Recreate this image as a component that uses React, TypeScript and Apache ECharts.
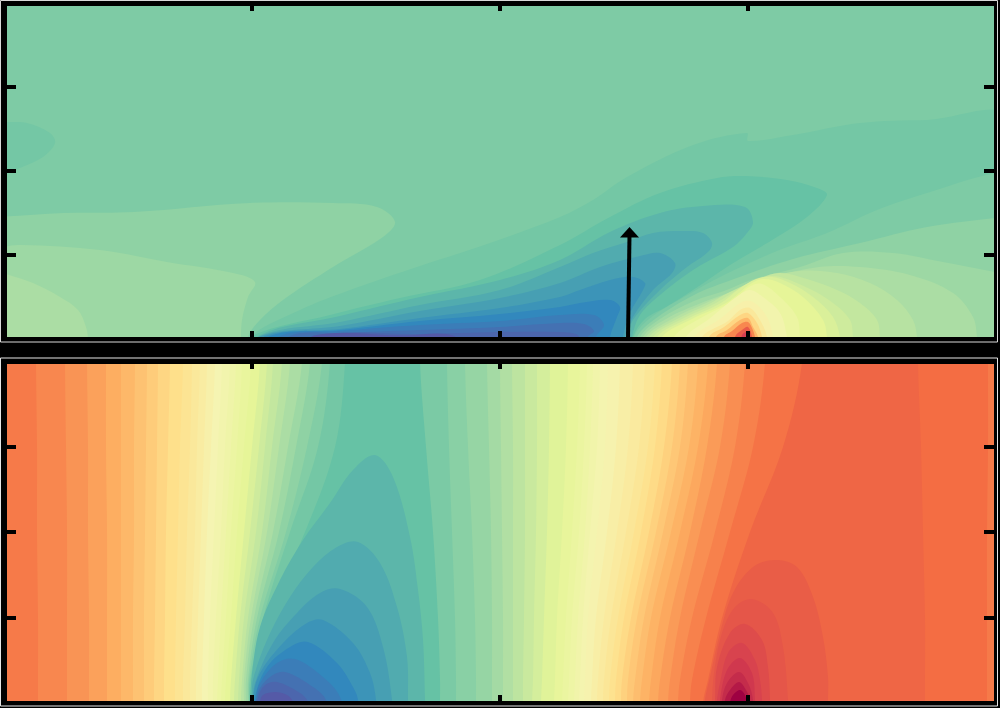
import React, { useEffect, useRef } from "react";
import * as echarts from "echarts";

// Colormap stops (value 0..1 across the eleven stops)
const colormapStops = ["#5e4fa2", "#3288bd", "#66c2a5", "#abdda4", "#e6f598", "#f5f4b2", "#fee08b", "#fdae61", "#f46d43", "#d53e4f", "#9e0142"];

// Upper panel: field level of each filled contour, then its outline [x, height]
const upperBase = 0.235;
const upperLevels = [
  0.26, 0.28, 0.3, 0.22,
  0.22, 0.2, 0.18, 0.16, 0.14, 0.12, 0.1, 0.08, 0.06, 0.04, 0.02,
  0.235, 0.26, 0.28, 0.3, 0.32, 0.34, 0.36, 0.38, 0.4, 0.44, 0.48, 0.52, 0.56, 0.62, 0.68, 0.76, 0.84, 0.9,
];
const upperContours = [
  [[-30,122],[-8,122],[60,126],[130,127],[246,136],[329,136],[373,132],[391,117],[379,102],[329,72],[279,39],[256,19],[244,2],[243,-20],[-30,-20]],
  [[-30,90],[-8,91],[16,94],[96,89],[163,77],[229,66],[251,57],[244,42],[238,19],[237,0],[237,-20],[-30,-20]],
  [[-30,72],[-8,68],[2,65],[29,56],[56,42],[74,29],[82,12],[84,0],[84,-20],[-30,-20]],
  [[-30,220],[-8,218],[2,217],[23,216],[46,206],[51,196],[39,182],[16,171],[2,165],[-8,161],[-30,155]],

  [[246,2],[296,29],[346,49],[416,73],[486,96],[556,122],[589,139],[623,162],[689,194],[743,206],[744,198],[789,204],[856,216],[923,219],[1006,220],[1020,-20],[240,-20]],
  [[246,2],[326,24],[396,41],[476,59],[556,94],[606,122],[656,146],[713,161],[741,163],[783,159],[813,151],[823,144],[803,122],[773,102],[723,72],[689,49],[662,32],[641,20],[629,2],[626,-20],[240,-20]],
  [[256,4],[336,23],[416,42],[496,59],[556,79],[606,107],[656,126],[699,133],[741,132],[749,117],[743,106],[729,92],[689,69],[656,44],[636,24],[628,2],[626,-20],[250,-20]],
  [[256,3],[336,17],[416,34],[496,49],[556,72],[589,86],[623,97],[649,106],[679,108],[699,106],[708,96],[704,87],[683,72],[656,49],[629,19],[624,2],[622,-20],[252,-20]],
  [[256,2.5],[336,13],[416,28],[496,41],[556,56],[596,72],[636,83],[656,86],[671,76],[668,66],[649,49],[629,22],[621,2],[620,-20],[254,-20]],
  [[261,3],[336,10],[416,21],[496,31],[556,42],[576,49],[606,59],[629,62],[641,56],[639,49],[626,26],[619,2],[618,-20],[258,-20]],
  [[266,3],[336,9],[416,18],[496,25],[556,32],[576,36],[606,39],[616,32],[613,22],[606,2],[605,-20],[262,-20]],
  [[276,3],[336,8],[416,14],[496,18],[556,24],[590,24],[600,14],[592,2],[590,-20],[270,-20]],
  [[286,3],[336,6],[416,9],[496,12],[556,16],[580,15],[590,8],[584,2],[582,-20],[280,-20]],
  [[316,3],[416,5],[496,7],[556,7],[572,5],[575,2],[572,-20],[310,-20]],
  [[300,-20],[310,3.5],[400,3.5],[450,3],[460,-20]],

  [[1030,160],[1008,164],[991,166],[923,146],[873,129],[823,106],[773,88],[720,64],[680,42],[645,20],[630,2],[628,-20],[1030,-20]],
  [[1030,125],[1008,123],[991,121],[923,112],[856,96],[789,80],[730,60],[690,44],[651,20],[633,2],[631,-20],[1030,-20]],
  [[1030,62],[1008,64],[991,67],[939,77],[889,86],[839,86],[796,72],[750,60],[720,48],[690,38],[656,20],[636,2],[634,-20],[1030,-20]],
  [[975,-20],[973,2],[969,22],[949,46],[906,64],[856,72],[815,72],[770,62],[730,48],[697,36],[662,20],[639,2],[637,-20]],
  [[915,-20],[913,2],[909,19],[893,39],[866,56],[833,66],[795,68],[760,60],[725,46],[702,36],[668,20],[642,2],[640,-20]],
  [[878,-20],[876,2],[873,19],[856,36],[833,49],[803,60],[775,66],[750,58],[720,44],[707,36],[673,20],[645,2],[643,-20]],
  [[851,-20],[849,2],[846,19],[829,36],[806,50],[776,62],[760,62],[738,52],[712,36],[678,20],[649,2],[647,-20]],
  [[838,-20],[836,2],[829,22],[809,42],[786,56],[768,62],[752,60],[735,50],[717,36],[683,20],[653,2],[651,-20]],
  [[825,-20],[823,2],[819,19],[799,42],[776,56],[760,60],[748,56],[722,36],[688,20],[658,2],[656,-20]],
  [[798,-20],[796,2],[793,22],[776,42],[758,55],[745,52],[729,38],[695,20],[670,2],[668,-20]],
  [[785,-20],[783,2],[776,26],[759,42],[746,49],[735,44],[705,20],[682,2],[680,-20]],
  [[771,-20],[769,2],[763,22],[749,37],[738,37],[716,20],[690,2],[688,-20]],
  [[765,-20],[763,2],[756,19],[746,31],[736,29],[724,18],[698,2],[696,-20]],
  [[760,-20],[758,2],[753,16],[744,26],[736,24],[720,12],[705,2],[703,-20]],
  [[756,-20],[754,2],[749,12],[744,21],[736,19],[723,9],[712,2],[710,-20]],
  [[753,-20],[751,2],[748,11],[744,17],[738,16],[728,8],[720,2],[718,-20]],
  [[750,-20],[748,2],[744,12],[738,9],[731,2],[729,-20]],
  [[746,-20],[744,2],[743,7],[738,4],[735,-20]],
];

// Vertical arrow in the upper panel: foot and tip [x, height]
const arrowFoot = [624, 0];
const arrowTip = [625.5, 112];

// Lower panel: heights at which each band edge was read
const lowerBase = 0.78;
const bandHeights = [340, 256, 171, 85, 23, 0];
const bandLevels = [
  0.76, 0.74, 0.72, 0.7, 0.68, 0.66, 0.64, 0.62, 0.6, 0.58, 0.56, 0.54, 0.52, 0.5, 0.48, 0.46, 0.44, 0.42, 0.4,
  0.38, 0.36, 0.34, 0.32, 0.3, 0.28, 0.26, 0.24, 0.22, 0.2,
  0.23, 0.25, 0.27, 0.29, 0.31, 0.33, 0.35, 0.37, 0.39, 0.41, 0.43, 0.45, 0.47, 0.49, 0.51, 0.53, 0.55, 0.57,
  0.59, 0.61, 0.63, 0.65, 0.67, 0.69, 0.71, 0.73, 0.75, 0.77, 0.79, 0.815, 0.8, 0.78,
];
const bandEdges = [
  [32,33,33,34,34,34],[61,62,63,63,63,63],[83,84,84,85,85,85],[102,102,103,103,103,103],[117,117,117,117,117,117],
  [131,130,130,129,129,129],[143,142,141,140,140,140],[154,153,152,151,150,150],[166,164,162,161,160,160],
  [179,176,174,172,171,171],[188,186,183,181,179,179],[196,193,191,188,186,186],[203,200,197,194,192,192],
  [211,207,203,200,198,198],[218,214,210,206,204,204],[226,221,217,212,209,209],[232,227,222,217,214,213],
  [238,233,227,222,218,217],[247,240,233,227,222,221],[256,248,240,232,227,226],[263,255,246,236,231,230],
  [269,261,252,240,235,234],[278,268,258,244,238,237],[286,275,263,247,240,240],[298,284,269,250,242,242],
  [306,292,275,253,244,244],[318,303,282,256,245,245],[326,314,286,259,246,245],[341,331,301,262,248,246],

  [416,422,429,434,436,436],[443,445,448,451,452,452],[461,464,468,471,472,472],[483,485,487,488,488,488],
  [496,497,498,499,499,499],[508,509,509,509,509,509],[521,521,521,520,519,519],[533,533,532,530,529,528],
  [546,545,543,540,538,537],[564,562,558,553,551,550],[576,573,568,562,559,558],[583,580,575,568,565,564],
  [589,586,581,574,571,570],[596,593,586,579,576,575],[604,601,593,584,581,580],[616,612,603,592,588,587],
  [629,624,613,600,594,593],[641,635,622,607,600,599],[651,644,630,614,606,605],[658,651,637,620,612,611],
  [668,660,645,627,618,617],[676,668,652,633,624,623],[684,676,659,640,631,629],[694,685,667,647,638,636],
  [704,694,676,656,647,645],[713,703,686,666,656,654],[726,716,696,676,666,664],[741,731,711,688,676,674],
  [761,749,726,702,688,686],[798,779,746,718,704,699],[914,917,919,921,921,921],[984,984,983,983,983,983],
];

// Lower panel: closed lobes over the bands
const lobeLevels = [0.18, 0.16, 0.14, 0.12, 0.1, 0.08, 0.06, 0.04, 0.02, 0.835, 0.85, 0.87, 0.89, 0.91, 0.93, 0.96, 1];
const lobeContours = [
  [[244,-20],[246,3],[248,30],[256,76],[276,123],[299,163],[326,200],[349,233],[371,248],[389,226],[406,166],[414,113],[419,63],[421,3],[421,-20]],
  [[246,-20],[248,3],[249,23],[263,63],[286,106],[309,136],[333,156],[354,161],[376,140],[393,96],[403,46],[404,3],[404,-20]],
  [[248,-20],[249,3],[251,20],[269,60],[293,90],[316,110],[336,114],[363,96],[379,56],[388,3],[388,-20]],
  [[248,-20],[249,6],[256,30],[279,60],[303,80],[319,83],[349,60],[366,30],[372,3],[372,-20]],
  [[250,-20],[251,6],[263,36],[286,56],[304,61],[333,40],[349,16],[354,3],[354,-20]],
  [[251,-20],[252,5],[256,20],[273,40],[291,44],[319,26],[336,6],[338,-20]],
  [[253,-20],[254,10],[266,26],[281,31],[309,16],[322,3],[324,-20]],
  [[253,-20],[254,5],[261,18],[273,21],[296,10],[304,1],[306,-20]],
  [[255,-20],[256,1],[259,8],[271,11],[283,8],[289,1],[291,-20]],

  [[701,-20],[701,3],[706,26],[716,70],[729,110],[749,136],[771,143],[793,136],[809,106],[819,66],[824,26],[824,3],[824,-20]],
  [[707,-20],[708,3],[710,30],[718,70],[731,96],[748,104],[769,90],[779,56],[784,3],[784,-20]],
  [[710,-20],[711,3],[713,36],[726,70],[741,79],[758,63],[764,36],[766,3],[766,-20]],
  [[712,-20],[713,3],[716,20],[724,50],[738,60],[751,43],[756,23],[758,3],[758,-20]],
  [[715,-20],[716,3],[723,33],[736,45],[748,30],[751,3],[751,-20]],
  [[717,-20],[718,3],[723,20],[735,31],[744,20],[749,3],[749,-20]],
  [[720,-20],[721,3],[726,13],[735,21],[742,13],[746,3],[746,-20]],
  [[725,-20],[726,0],[729,8],[736,13],[741,8],[743,0],[744,-20]],
];

function levelColor(v: number): string {
  const t = Math.max(0, Math.min(1, v)) * (colormapStops.length - 1);
  const i = Math.min(colormapStops.length - 2, Math.floor(t));
  const f = t - i;
  const a = parseInt(colormapStops[i].slice(1), 16);
  const b = parseInt(colormapStops[i + 1].slice(1), 16);
  const mix = (s: number) => Math.round(((a >> s) & 255) * (1 - f) + ((b >> s) & 255) * f);
  return `rgb(${mix(16)},${mix(8)},${mix(0)})`;
}

function bandOutline(xs: number[]): number[][] {
  const pts = xs.map((x, i) => [x, bandHeights[i]]);
  return [[xs[0], 400], ...pts, [xs[xs.length - 1], -30], [1100, -30], [1100, 400]];
}

const upperFill = [[-40, -40], [1040, -40], [1040, 400], [-40, 400]];
const upperShapes = [
  { level: upperBase, points: upperFill },
  ...upperContours.map((points, i) => ({ level: upperLevels[i], points })),
];
const lowerShapes = [
  { level: lowerBase, points: upperFill },
  ...bandEdges.map((xs, i) => ({ level: bandLevels[i], points: bandOutline(xs) })),
  ...lobeContours.map((points, i) => ({ level: lobeLevels[i], points })),
];

function contourSeries(shapes: { level: number; points: number[][] }[], axisIndex: number) {
  return {
    type: "custom",
    xAxisIndex: axisIndex,
    yAxisIndex: axisIndex,
    clip: true,
    silent: true,
    z: 1,
    data: shapes.map((_, i) => [i]),
    renderItem: (params: any, api: any) => {
      const s = shapes[params.dataIndex];
      return {
        type: "polygon",
        shape: { points: s.points.map((p) => api.coord(p)), smooth: 0.35 },
        style: { fill: levelColor(s.level), stroke: null },
      };
    },
  };
}

const frameAxis = { show: true, lineStyle: { color: "#000", width: 5 } };
const frameTick = (length: number) => ({ show: true, inside: true, length, lineStyle: { color: "#000", width: 4 } });

function xAxes(gridIndex: number) {
  return ["bottom", "top"].map((position) => ({
    type: "value", gridIndex, position, min: 0, max: 992, interval: 248, z: 5,
    axisLine: { ...frameAxis, onZero: false }, axisTick: frameTick(8), axisLabel: { show: false }, splitLine: { show: false },
  }));
}
function yAxes(gridIndex: number, max: number, interval: number) {
  return ["left", "right"].map((position) => ({
    type: "value", gridIndex, position, min: 0, max, interval, z: 5,
    axisLine: { ...frameAxis, onZero: false }, axisTick: frameTick(12), axisLabel: { show: false }, splitLine: { show: false },
  }));
}

export default function App() {
  const ref = useRef<HTMLDivElement>(null);
  useEffect(() => {
    document.body.style.margin = "0";
    document.body.style.background = "#000";
    const chart = echarts.init(ref.current!, undefined, { renderer: "svg" });
    chart.setOption({
      animation: false,
      backgroundColor: "#000",
      tooltip: { show: false },
      grid: [
        { left: 4, top: 3, width: 992, height: 336 },
        { left: 4, top: 361, width: 992, height: 342 },
      ],
      xAxis: [...xAxes(0), ...xAxes(1)],
      yAxis: [...yAxes(0, 336, 84), ...yAxes(1, 342, 85.5)],
      graphic: [
        { type: "rect", z: 10, silent: true, shape: { x: 0.5, y: 0.5, width: 997, height: 341.5 }, style: { fill: "none", stroke: "#d9d9d9", lineWidth: 1 } },
        { type: "rect", z: 10, silent: true, shape: { x: 0.5, y: 358, width: 997, height: 348 }, style: { fill: "none", stroke: "#e6e6e6", lineWidth: 1 } },
      ],
      series: [
        { ...contourSeries(upperShapes, 0) },
        {
          ...contourSeries(lowerShapes, 2),
        },
        {
          type: "custom",
          xAxisIndex: 0,
          yAxisIndex: 0,
          clip: true,
          silent: true,
          z: 3,
          data: [[...arrowFoot, ...arrowTip]],
          renderItem: (_: any, api: any) => {
            const foot = api.coord([api.value(0), api.value(1)]);
            const tip = api.coord([api.value(2), api.value(3)]);
            return {
              type: "group",
              children: [
                { type: "line", shape: { x1: foot[0], y1: foot[1], x2: tip[0], y2: tip[1] + 8 }, style: { stroke: "#000", lineWidth: 4 } },
                { type: "polygon", shape: { points: [[tip[0], tip[1]], [tip[0] + 9.5, tip[1] + 10.5], [tip[0] - 9.5, tip[1] + 10.5]] }, style: { fill: "#000" } },
              ],
            };
          },
        },
      ],
    });
    return () => chart.dispose();
  }, []);
  return <div ref={ref} style={{ position: "fixed", left: 0, top: 0, width: 1000, height: 708 }} />;
}
